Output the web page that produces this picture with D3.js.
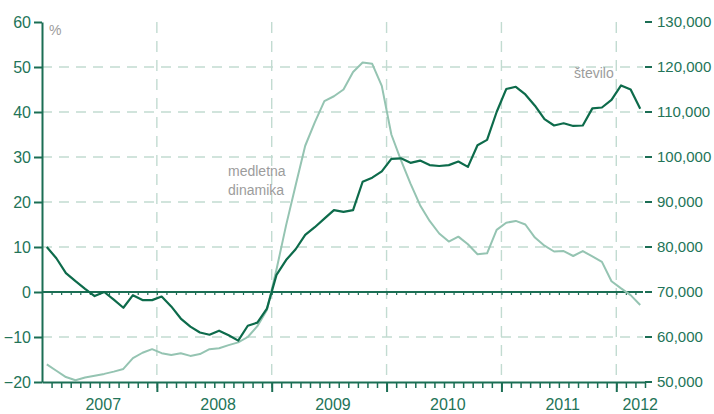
<!DOCTYPE html>
<html>
<head>
<meta charset="utf-8">
<script src="https://cdn.jsdelivr.net/npm/d3@7"></script>
<style>
    html, body { margin: 0; padding: 0; background: #fff; }
    svg { display: block; font-family: "Liberation Sans", Arial, sans-serif; }
</style>
</head>
<body>
<svg id="chart" width="714" height="414"></svg>
<script>
    // monthly values, Jan 2007 - Mar 2012
    const YEARS = [2007, 2008, 2009, 2010, 2011, 2012];

    const STEVILO = [
        80000, 77500, 74200, 72400, 70700, 69100, 70000, 68300, 66500, 69300, 68200, 68200,
        69000, 66800, 64100, 62300, 61000, 60500, 61400, 60400, 59200, 62500, 63200, 66300,
        73800, 77100, 79500, 82700, 84400, 86300, 88200, 87800, 88200, 94500, 95400, 96800,
        99600, 99700, 98700, 99200, 98200, 98000, 98200, 99000, 97800, 102600, 103800, 110000,
        115100, 115600, 113900, 111400, 108400, 107000, 107500, 106900, 107000, 110800, 111000, 112700,
        115900, 115000, 110700
    ];

    const MEDLETNA = [
        -16.1, -17.5, -18.9, -19.6, -19.0, -18.6, -18.2, -17.7, -17.1, -14.7, -13.5, -12.7,
        -13.6, -14.0, -13.6, -14.2, -13.8, -12.7, -12.5, -11.8, -11.2, -10.0, -7.6, -4.0,
        5.0, 14.8, 23.7, 32.5, 37.7, 42.4, 43.5, 45.0, 48.9, 51.0, 50.7, 45.8,
        35.0, 29.3, 24.1, 19.3, 15.8, 13.0, 11.2, 12.3, 10.6, 8.4, 8.6, 13.8,
        15.4, 15.8, 15.0, 12.1, 10.3, 9.0, 9.1, 8.0, 9.1, 7.9, 6.7, 2.4,
        0.8, -0.7, -2.9
    ];

    const LEFT_TICKS = [-20, -10, 0, 10, 20, 30, 40, 50, 60];
    const RIGHT_TICKS = [50000, 60000, 70000, 80000, 90000, 100000, 110000, 120000, 130000];

    const DARK = "#0d6b4b";
    const LIGHT = "#95c4b2";
    const AXIS = "#1b6e54";
    const TEXT = "#237458";
    const GRID = "#c2dbd1";
    const GRAY = "#9c9c9c";

    const SVG = d3.select("#chart");
    const LEFT = 42, RIGHT = 645, TOP = 22, BOTTOM = 382;
    const MONTHS = 63;

    const x = d3.scaleLinear().domain([0, MONTHS]).range([LEFT, RIGHT]);
    const yL = d3.scaleLinear().domain([-20, 60]).range([BOTTOM, TOP]);
    const yR = d3.scaleLinear().domain([50000, 130000]).range([BOTTOM, TOP]);

    // dashed grid
    SVG.append("g")
        .selectAll("line")
        .data(LEFT_TICKS.filter(d => d !== 0 && d !== -20 && d !== 60))
        .join("line")
        .attr("x1", LEFT).attr("x2", RIGHT - 2)
        .attr("y1", d => yL(d)).attr("y2", d => yL(d))
        .attr("stroke", GRID)
        .attr("stroke-width", 1.4)
        .attr("stroke-dasharray", "10,7");

    SVG.append("g")
        .selectAll("line")
        .data(YEARS.slice(1).map((yr, i) => (i + 1) * 12))
        .join("line")
        .attr("x1", d => x(d)).attr("x2", d => x(d))
        .attr("y1", TOP).attr("y2", BOTTOM)
        .attr("stroke", GRID)
        .attr("stroke-width", 1.4)
        .attr("stroke-dasharray", "11,8");

    // zero line with small month ticks
    SVG.append("line")
        .attr("x1", LEFT).attr("x2", RIGHT - 2)
        .attr("y1", yL(0)).attr("y2", yL(0))
        .attr("stroke", AXIS)
        .attr("stroke-width", 1.8);

    SVG.append("g")
        .attr("transform", `translate(0,${yL(0)})`)
        .call(d3.axisBottom(x).tickValues(d3.range(1, MONTHS)).tickSize(3).tickFormat(""))
        .call(g => g.select(".domain").remove())
        .call(g => g.selectAll("line").attr("stroke", AXIS).attr("stroke-width", 1.2));

    // lines
    const lineL = d3.line().x((d, i) => x(i + 0.5)).y(d => yL(d));
    const lineR = d3.line().x((d, i) => x(i + 0.5)).y(d => yR(d));

    SVG.append("path")
        .datum(MEDLETNA)
        .attr("d", lineL)
        .attr("fill", "none")
        .attr("stroke", LIGHT)
        .attr("stroke-width", 2)
        .attr("stroke-linejoin", "round");

    SVG.append("path")
        .datum(STEVILO)
        .attr("d", lineR)
        .attr("fill", "none")
        .attr("stroke", DARK)
        .attr("stroke-width", 2.2)
        .attr("stroke-linejoin", "round");

    // left axis
    SVG.append("g")
        .attr("transform", `translate(${LEFT},0)`)
        .call(d3.axisLeft(yL).tickValues(LEFT_TICKS).tickSize(8).tickPadding(3).tickSizeOuter(0))
        .call(g => g.select(".domain").attr("stroke", AXIS).attr("stroke-width", 2))
        .call(g => g.selectAll(".tick line").attr("stroke", AXIS).attr("stroke-width", 2))
        .call(g => g.selectAll("text").attr("fill", TEXT).style("font-size", "16px"));

    // right axis (ticks only)
    SVG.append("g")
        .attr("transform", `translate(${RIGHT + 7},0)`)
        .call(d3.axisRight(yR).tickValues(RIGHT_TICKS).tickSize(0).tickPadding(5).tickFormat(d3.format(",")))
        .call(g => g.select(".domain").remove())
        .call(g => g.selectAll("text").attr("fill", TEXT).style("font-size", "15px"));

    SVG.append("g")
        .selectAll("line")
        .data(RIGHT_TICKS)
        .join("line")
        .attr("x1", RIGHT).attr("x2", RIGHT + 7)
        .attr("y1", d => yR(d)).attr("y2", d => yR(d))
        .attr("stroke", AXIS)
        .attr("stroke-width", 2);

    // bottom axis: month ticks, longer year ticks
    SVG.append("g")
        .attr("transform", `translate(0,${BOTTOM})`)
        .call(d3.axisBottom(x).tickValues(d3.range(1, MONTHS + 1)).tickSize(6).tickFormat("").tickSizeOuter(0))
        .call(g => g.select(".domain").attr("stroke", AXIS).attr("stroke-width", 2))
        .call(g => g.selectAll(".tick line").attr("stroke", AXIS).attr("stroke-width", 1.5));

    SVG.append("g")
        .attr("transform", `translate(0,${BOTTOM})`)
        .call(d3.axisBottom(x).tickValues(YEARS.slice(1).map((yr, i) => (i + 1) * 12)).tickSize(10).tickFormat(""))
        .call(g => g.select(".domain").remove())
        .call(g => g.selectAll(".tick line").attr("stroke", AXIS).attr("stroke-width", 2));

    SVG.append("g")
        .selectAll("text")
        .data(YEARS)
        .join("text")
        .attr("x", (d, i) => x(Math.min(i * 12 + 6.4, MONTHS - 0.5)))
        .attr("y", 410)
        .attr("text-anchor", "middle")
        .attr("fill", TEXT)
        .style("font-size", "16px")
        .text(d => d);

    // series labels
    SVG.append("text")
        .attr("x", 49).attr("y", 35)
        .attr("fill", GRAY)
        .style("font-size", "14px")
        .text("%");

    const NOTE = SVG.append("text")
        .attr("x", 228).attr("y", 176)
        .attr("fill", GRAY)
        .style("font-size", "14px");
    NOTE.append("tspan").attr("x", 228).text("medletna");
    NOTE.append("tspan").attr("x", 228).attr("dy", 19).text("dinamika");

    SVG.append("text")
        .attr("x", 574).attr("y", 78)
        .attr("fill", GRAY)
        .style("font-size", "14px")
        .text("število");
</script>
</body>
</html>
